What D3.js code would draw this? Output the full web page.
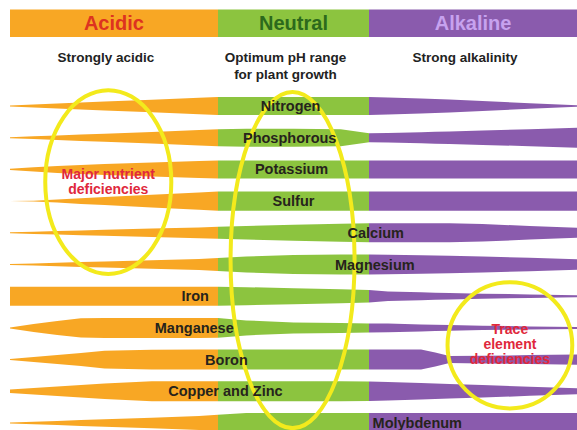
<!DOCTYPE html>
<html>
<head>
<meta charset="utf-8">
<script src="https://cdn.jsdelivr.net/npm/d3@7/dist/d3.min.js"></script>
<style>
body { margin: 0; background: #fff; }
svg { display: block; font-family: "Liberation Sans", Arial, sans-serif; }
</style>
</head>
<body>
<svg id="chart" width="577" height="430"></svg>
<script>
// pH zones shown in the header
const zones = ["Acidic", "Neutral", "Alkaline"];
const zoneSubtitles = [["Strongly acidic"], ["Optimum pH range", "for plant growth"], ["Strong alkalinity"]];
const zoneEdges = [4.0, 6.2, 7.8, 10.0];
const zoneColors = ["#f8a724", "#8cc43f", "#8a5bad"];
const zoneTextColors = ["#dd3320", "#2c6a1c", "#c7a2ef"];

const nutrients = ["Nitrogen", "Phosphorous", "Potassium", "Sulfur", "Calcium", "Magnesium",
    "Iron", "Manganese", "Boron", "Copper and Zinc", "Molybdenum"];

// pH points where the availability of each nutrient is read
const phGrid = [4.0, 4.25, 4.5, 4.75, 5.0, 5.5, 6.0, 6.2, 6.5, 7.0, 7.5, 7.8, 8.0, 8.35, 8.5, 8.65, 9.0, 9.5, 10.0];

// relative availability (0-100) at each pH point
const nitrogen    = [5, 15, 25, 35, 44, 63, 82, 90, 90, 90, 90, 90, 85, 75, 70, 65, 50, 28, 7];
const phosphorous = [5, 14, 23, 32, 40, 58, 78, 85, 90, 90, 85, 45, 48, 55, 60, 63, 72, 85, 100];
const potassium   = [7, 22, 35, 45, 55, 70, 85, 90, 90, 90, 90, 90, 90, 90, 90, 90, 90, 90, 90];
const sulfur      = [0, 4, 15, 28, 40, 63, 86, 96, 97, 97, 97, 97, 97, 97, 97, 97, 97, 97, 97];
const calcium     = [5, 11, 18, 24, 30, 42, 54, 60, 68, 80, 90, 95, 95, 95, 95, 95, 88, 68, 50];
const magnesium   = [5, 11, 18, 24, 30, 43, 55, 65, 80, 95, 100, 100, 98, 93, 90, 88, 80, 68, 53];
const iron        = [95, 95, 95, 95, 95, 95, 95, 95, 90, 80, 70, 62, 48, 40, 35, 32, 25, 18, 10];
const manganese   = [5, 40, 70, 97, 100, 100, 100, 98, 75, 55, 50, 45, 43, 35, 32, 28, 22, 15, 10];
const boron       = [5, 25, 45, 65, 88, 98, 100, 100, 100, 100, 100, 100, 100, 100, 70, 35, 38, 45, 52];
const copperZinc  = [18, 33, 48, 63, 78, 100, 100, 100, 100, 100, 100, 98, 93, 83, 78, 73, 63, 45, 30];
const molybdenum  = [5, 13, 21, 29, 38, 53, 70, 82, 100, 100, 100, 100, 100, 100, 100, 100, 100, 100, 100];
const availability = [nitrogen, phosphorous, potassium, sulfur, calcium, magnesium,
    iron, manganese, boron, copperZinc, molybdenum];

// pH at which each nutrient name is written
const labelPH = [6.97, 6.96, 6.98, 7.0, 7.87, 7.86, 5.96, 5.95, 6.29, 6.28, 8.31];

// circled regions: centre pH, centre row, half-width in pH, half-height in rows
const circles = [
    {ph: 5.04, row: 2.4, rph: 0.667, rrow: 2.9, text: ["Major nutrient", "deficiencies"]},
    {ph: 6.99, row: 4.86, rph: 0.656, rrow: 5.3, text: []},
    {ph: 9.29, row: 7.55, rph: 0.66, rrow: 1.99, text: ["Trace", "element", "deficiencies"]}
];

const svg = d3.select("#chart");
const width = 577;

const x = d3.scaleLinear().domain([4, 10]).range([10, 577]);
const yRow = d3.scaleLinear().domain([0, nutrients.length - 1]).range([106, 423]);
const thick = d3.scaleLinear().domain([0, 100]).range([0, 20]);

// hard-stop gradient so one shape is coloured by the pH zone it crosses
const grad = svg.append("defs").append("linearGradient")
    .attr("id", "zoneGrad")
    .attr("gradientUnits", "userSpaceOnUse")
    .attr("x1", 0).attr("x2", width).attr("y1", 0).attr("y2", 0);
zones.forEach((z, i) => {
    grad.append("stop").attr("offset", x(zoneEdges[i]) / width).attr("stop-color", zoneColors[i]);
    grad.append("stop").attr("offset", x(zoneEdges[i + 1]) / width).attr("stop-color", zoneColors[i]);
});

// header bar
svg.append("rect")
    .attr("x", x(zoneEdges[0]))
    .attr("y", 9.5)
    .attr("width", x(zoneEdges[3]) - x(zoneEdges[0]))
    .attr("height", 27.5)
    .attr("fill", "url(#zoneGrad)");

zones.forEach((z, i) => {
    let cx = (x(zoneEdges[i]) + x(zoneEdges[i + 1])) / 2;
    svg.append("text")
        .attr("x", cx)
        .attr("y", 30)
        .attr("text-anchor", "middle")
        .style("font-size", "20px")
        .style("font-weight", "bold")
        .style("fill", zoneTextColors[i])
        .text(z);
    zoneSubtitles[i].forEach((s, j) => {
        svg.append("text")
            .attr("x", cx - 8)
            .attr("y", 62 + j * 17)
            .attr("text-anchor", "middle")
            .style("font-size", "13.5px")
            .style("font-weight", "bold")
            .style("fill", "#222")
            .text(s);
    });
});

// nutrient bands
nutrients.forEach((n, i) => {
    let cy = yRow(i);
    let area = d3.area()
        .x((d, k) => x(phGrid[k]))
        .y0(d => cy - thick(d) / 2)
        .y1(d => cy + thick(d) / 2);
    svg.append("path")
        .datum(availability[i])
        .attr("d", area)
        .attr("fill", "url(#zoneGrad)");
});

// yellow circles
const yStep = yRow(1) - yRow(0);
const pxPerPH = x(5) - x(4);
circles.forEach(c => {
    svg.append("ellipse")
        .attr("cx", x(c.ph))
        .attr("cy", yRow(c.row))
        .attr("rx", c.rph * pxPerPH)
        .attr("ry", c.rrow * yStep)
        .attr("fill", "none")
        .attr("stroke", "#f3ea1c")
        .attr("stroke-width", 4);
});

// nutrient names
nutrients.forEach((n, i) => {
    svg.append("text")
        .attr("x", x(labelPH[i]))
        .attr("y", yRow(i) + 5)
        .attr("text-anchor", "middle")
        .style("font-size", "14.5px")
        .style("font-weight", "bold")
        .style("fill", "#26231c")
        .text(n);
});

// notes inside the circles
circles.forEach(c => {
    let n = c.text.length;
    c.text.forEach((t, j) => {
        svg.append("text")
            .attr("x", x(c.ph))
            .attr("y", yRow(c.row) + 4 + (j - (n - 1) / 2) * 15)
            .attr("text-anchor", "middle")
            .style("font-size", "14px")
            .style("font-weight", "bold")
            .style("fill", "#e0283c")
            .text(t);
    });
});
</script>
</body>
</html>
